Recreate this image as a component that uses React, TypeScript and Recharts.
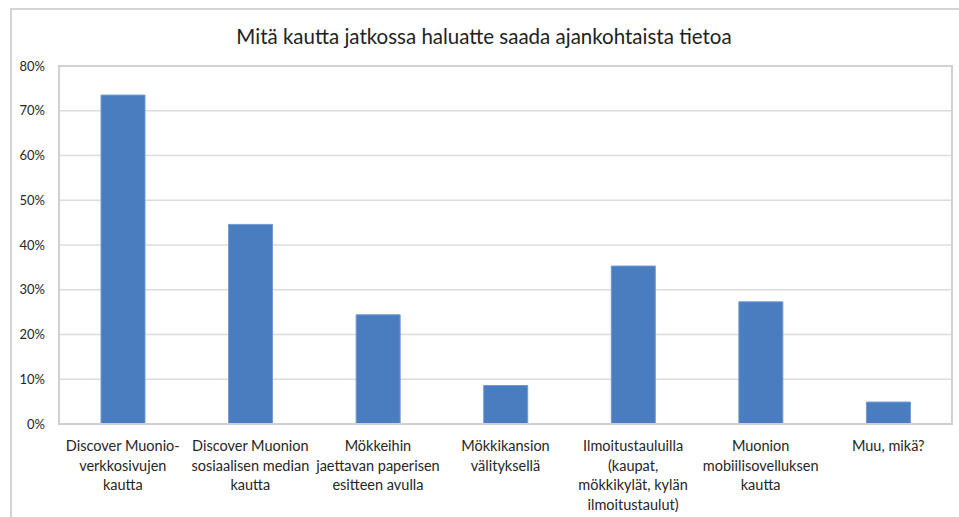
import React from 'react';
import { BarChart, Bar, XAxis, YAxis, CartesianGrid } from 'recharts';

const categories = [
  'Discover Muonio-\nverkkosivujen\nkautta',
  'Discover Muonion\nsosiaalisen median\nkautta',
  'Mökkeihin\njaettavan paperisen\nesitteen avulla',
  'Mökkikansion\nvälityksellä',
  'Ilmoitustauluilla\n(kaupat,\nmökkikylät, kylän\nilmoitustaulut)',
  'Muonion\nmobiilisovelluksen\nkautta',
  'Muu, mikä?',
];
const shares = [73.5, 44.6, 24.4, 8.6, 35.3, 27.3, 4.9];
const yTicks = [0, 10, 20, 30, 40, 50, 60, 70, 80];

const data = categories.map((name, i) => ({ name, value: shares[i] }));

const FONT = 'Lato, "Open Sans", sans-serif';

const CategoryTick = ({ x, y, payload }: any) => {
  const lines: string[] = String(payload.value).split('\n');
  return (
    <text x={x} y={y} textAnchor="middle" fill="#262626" fontSize={14.5} fontFamily={FONT}>
      {lines.map((line, i) => (
        <tspan key={i} x={x} dy={i === 0 ? 19 : 19.5}>
          {line}
        </tspan>
      ))}
    </text>
  );
};

export default function App() {
  return (
    <div style={{ position: 'absolute', left: 0, top: 0, width: 959, height: 517, overflow: 'hidden', background: '#fff' }}>
      {/* outer chart frame */}
      <div style={{ position: 'absolute', left: 10, top: 8, width: 980, height: 540, border: '2px solid #d4d4d4', boxSizing: 'border-box' }} />
      <div
        style={{
          position: 'absolute',
          top: 24,
          left: 0,
          width: 968,
          textAlign: 'center',
          fontFamily: FONT,
          fontSize: 20.5,
          color: '#222',
        }}
      >
        Mitä kautta jatkossa haluatte saada ajankohtaista tietoa
      </div>
      <div style={{ position: 'absolute', left: 0, top: 0 }}>
        <BarChart width={959} height={517} data={data} margin={{ top: 66, right: 7, bottom: 0, left: 0 }}>
          <CartesianGrid vertical={false} stroke="#dcdcdc" strokeWidth={1.5} />
          <XAxis dataKey="name" axisLine={false} tickLine={false} interval={0} tick={<CategoryTick />} height={93} />
          <YAxis
            domain={[0, 80]}
            ticks={yTicks}
            tickFormatter={(v) => `${v}%`}
            axisLine={false}
            tickLine={false}
            tickSize={0}
            tickMargin={14}
            width={59}
            tick={{ fill: '#262626', fontSize: 13, fontFamily: FONT }}
          />
          <Bar dataKey="value" fill="#4a7dc0" stroke="#6f9bd3" strokeWidth={1} barSize={44} isAnimationActive={false} />
        </BarChart>
      </div>
      {/* plot area border */}
      <div
        style={{
          position: 'absolute',
          left: 58,
          top: 65,
          width: 895,
          height: 360,
          border: '2px solid #d0d0d0',
          boxSizing: 'border-box',
          pointerEvents: 'none',
        }}
      />
    </div>
  );
}
